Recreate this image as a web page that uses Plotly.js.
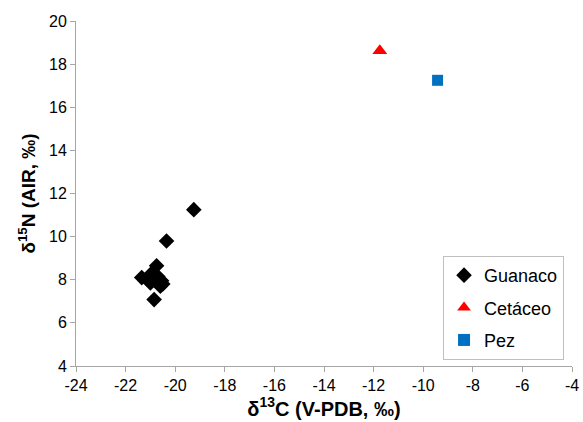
<!DOCTYPE html>
<html>
<head>
<meta charset="utf-8">
<script src="https://cdn.plot.ly/plotly-3.0.1.min.js"></script>
<style>html,body{margin:0;padding:0;background:#fff;}#chart{width:583px;height:422px;}</style>
</head>
<body>
<div id="chart"></div>
<script>
const guanacoX = [-19.25, -20.35, -20.75, -21.35, -20.95, -21.0, -20.75, -20.55, -20.6, -20.5, -20.85, -20.7];
const guanacoY = [11.25, 9.8, 8.65, 8.1, 8.3, 7.85, 8.0, 7.95, 7.7, 7.8, 7.08, 8.15];
const cetaceoX = [-11.75];
const cetaceoY = [18.62];
const pezX = [-9.42];
const pezY = [17.25];
const seriesNames = ["Guanaco", "Cetáceo", "Pez"];
const xTickVals = [-24, -22, -20, -18, -16, -14, -12, -10, -8, -6, -4];
const xTickText = ["-24", "-22", "-20", "-18", "-16", "-14", "-12", "-10", "-8", "-6", "-4"];
const yTickVals = [4, 6, 8, 10, 12, 14, 16, 18, 20];
const yTickText = ["4", "6", "8", "10", "12", "14", "16", "18", "20"];

const traces = [
  {x: guanacoX, y: guanacoY, name: seriesNames[0], legendgroup: "g1", type: "scatter", mode: "markers",
   marker: {symbol: "diamond", size: 12, color: "#000000"}},
  {x: cetaceoX, y: cetaceoY, name: seriesNames[1], legendgroup: "g2", type: "scatter", mode: "markers",
   marker: {symbol: "triangle-up", size: 13, color: "#ff0000"}},
  {x: pezX, y: pezY, name: seriesNames[2], legendgroup: "g3", type: "scatter", mode: "markers",
   marker: {symbol: "square", size: 11, color: "#0070c0"}}
];

const axisCommon = {
  showgrid: false, zeroline: false, showline: true, linecolor: "#a6a6a6", linewidth: 1,
  ticks: "outside", ticklen: 5, tickcolor: "#a6a6a6", tickmode: "array",
  tickfont: {family: "Liberation Sans, Arial, sans-serif", size: 16, color: "#000"}
};

const layout = {
  width: 583, height: 422,
  margin: {l: 76, r: 11, t: 21, b: 56},
  paper_bgcolor: "#fff", plot_bgcolor: "#fff",
  font: {family: "Liberation Sans, Arial, sans-serif", color: "#000"},
  xaxis: Object.assign({}, axisCommon, {range: [-24, -4], tickvals: xTickVals, ticktext: xTickText,
    title: {text: "<b>δ<sup>13</sup>C (V-PDB, ‰)</b>", font: {size: 20}, standoff: 6}}),
  yaxis: Object.assign({}, axisCommon, {range: [4, 20], tickvals: yTickVals, ticktext: yTickText,
    title: {text: "<b>δ<sup>15</sup>N (AIR, ‰)</b>", font: {size: 19}, standoff: 8}}),
  showlegend: true,
  legend: {x: 0.74, y: 0.319, xanchor: "left", yanchor: "top",
    bordercolor: "#bfbfbf", borderwidth: 1, bgcolor: "#fff",
    font: {size: 18}, traceorder: "grouped", tracegroupgap: 6, itemwidth: 30, itemsizing: "constant"}
};

Plotly.newPlot("chart", traces, layout, {displayModeBar: false, staticPlot: true});
</script>
</body>
</html>
